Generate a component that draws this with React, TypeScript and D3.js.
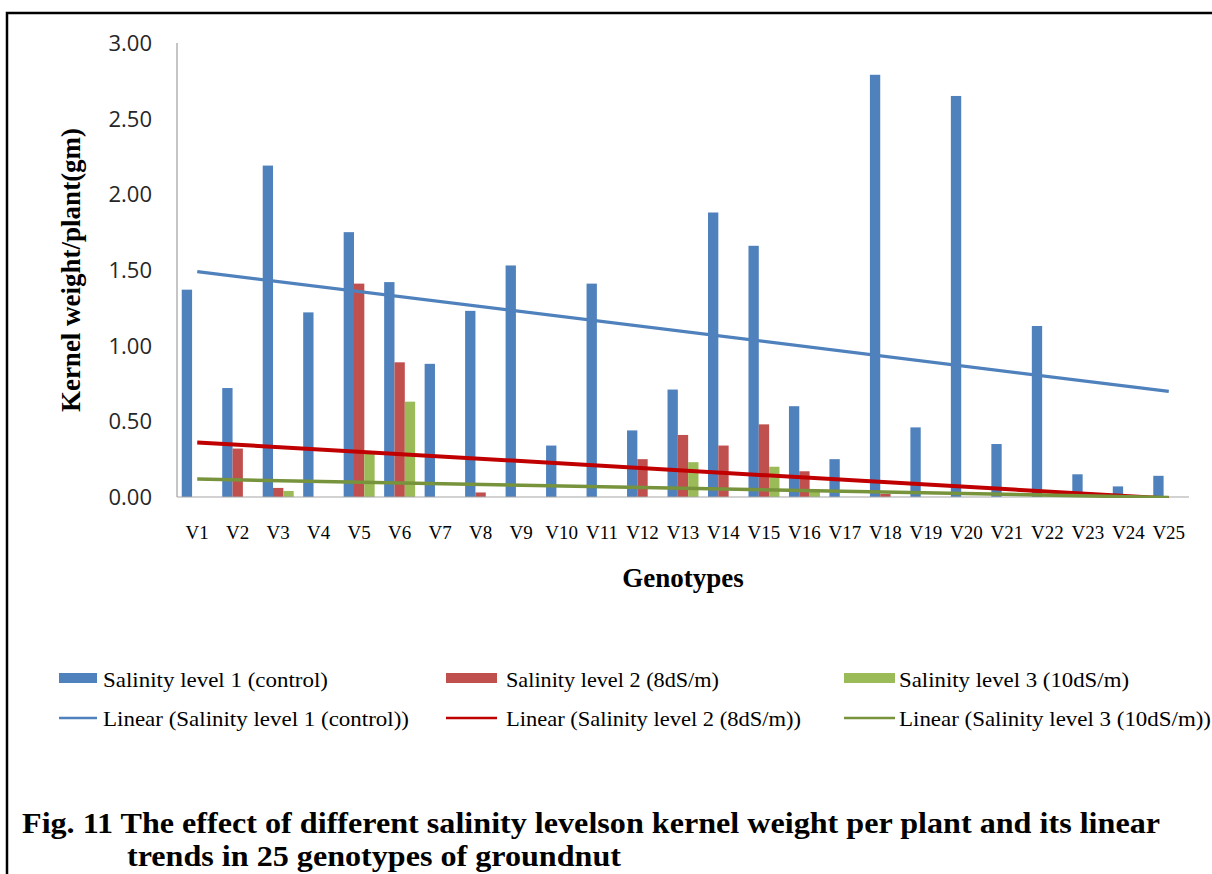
import React from "react";
import * as d3 from "d3";

// Genotypes on the category axis
const genotypes = [
  "V1", "V2", "V3", "V4", "V5", "V6", "V7", "V8", "V9", "V10", "V11", "V12", "V13",
  "V14", "V15", "V16", "V17", "V18", "V19", "V20", "V21", "V22", "V23", "V24", "V25",
];

// Kernel weight per plant (gm) at each salinity level
const level1 = [
  1.37, 0.72, 2.19, 1.22, 1.75, 1.42, 0.88, 1.23, 1.53, 0.34, 1.41, 0.44, 0.71,
  1.88, 1.66, 0.6, 0.25, 2.79, 0.46, 2.65, 0.35, 1.13, 0.15, 0.07, 0.14,
];
const level2 = [
  0, 0.32, 0.06, 0, 1.41, 0.89, 0, 0.03, 0, 0, 0, 0.25, 0.41,
  0.34, 0.48, 0.17, 0, 0.02, 0, 0, 0, 0, 0, 0, 0,
];
const level3 = [
  0, 0, 0.04, 0, 0.29, 0.63, 0, 0, 0, 0, 0, 0, 0.23,
  0, 0.2, 0.05, 0, 0, 0, 0, 0, 0, 0, 0, 0,
];

const seriesKeys = ["s1", "s2", "s3"];
const seriesNames = [
  "Salinity level 1 (control)",
  "Salinity level 2 (8dS/m)",
  "Salinity level 3 (10dS/m)",
];
const trendNames = [
  "Linear (Salinity level 1 (control))",
  "Linear (Salinity level 2 (8dS/m))",
  "Linear (Salinity level 3 (10dS/m))",
];
const yTicks = [0, 0.5, 1, 1.5, 2, 2.5, 3];
const captionLines = [
  "Fig. 11 The effect of different salinity levelson kernel weight per plant and its linear",
  "trends in 25 genotypes of groundnut",
];

const barColors = ["#4F81BD", "#C0504D", "#9BBB59"];
const trendColors = ["#4F81BD", "#C00000", "#77933C"];
const trendWidths = [3.2, 4, 3.5];

const W = 1212;
const H = 874;
const plot = { left: 177, right: 1189, top: 43, bottom: 497 };

// Ordinary least squares over category index 1..n
function linearFit(values: number[]) {
  const n = values.length;
  const xs = values.map((_, i) => i + 1);
  const mx = d3.mean(xs) as number;
  const my = d3.mean(values) as number;
  let num = 0;
  let den = 0;
  values.forEach((v, i) => {
    num += (xs[i] - mx) * (v - my);
    den += (xs[i] - mx) * (xs[i] - mx);
  });
  const slope = num / den;
  const intercept = my - slope * mx;
  return { slope, intercept, n };
}

const serif = "'Liberation Serif', 'Times New Roman', serif";

export default function App() {
  const series = [level1, level2, level3];

  const x = d3
    .scaleBand<string>()
    .domain(genotypes)
    .range([plot.left, plot.right])
    .paddingInner(0)
    .paddingOuter(0);
  const xSub = d3
    .scaleBand<string>()
    .domain(seriesKeys)
    .range([0, x.bandwidth()])
    .paddingInner(0)
    .paddingOuter(0.46);
  const y = d3.scaleLinear().domain([0, 3]).range([plot.bottom, plot.top]);

  const center = (i: number) => (x(genotypes[i]) as number) + x.bandwidth() / 2;

  const trends = series.map((vals) => {
    const fit = linearFit(vals);
    const pts: [number, number][] = [1, fit.n].map((k) => [
      center(k - 1),
      y(fit.intercept + fit.slope * k),
    ]);
    return d3.line()(pts) as string;
  });

  // Legend layout: swatch start/end and text start for each column
  const legendCols = [
    { sx0: 59, sx1: 97, tx: 103, w1: 225, w2: 306 },
    { sx0: 446, sx1: 497, tx: 506, w1: 213, w2: 295 },
    { sx0: 844, sx1: 895, tx: 899, w1: 230, w2: 312 },
  ];

  // Caption lines: start x, baseline, rendered width
  const captionLayout = [
    { x: 22, y: 833, w: 1138 },
    { x: 127, y: 866, w: 494 },
  ];

  return (
    <div style={{ position: "absolute", left: 0, top: 0 }}>
      <svg width={W} height={H} viewBox={`0 0 ${W} ${H}`} style={{ display: "block", background: "#fff" }}>
        <defs>
          <clipPath id="plot-clip">
            <rect x={plot.left} y={plot.top} width={plot.right - plot.left} height={plot.bottom - plot.top + 1} />
          </clipPath>
        </defs>

        {/* frame */}
        <path d={`M7,${H + 2} L7,13 L${W + 2},13`} fill="none" stroke="#000" strokeWidth={2.5} />

        {/* y tick labels */}
        {yTicks.map((t) => (
          <text
            key={t}
            x={152}
            y={y(t)}
            dy="0.36em"
            textAnchor="end"
            fontFamily="'Open Sans', 'Liberation Sans', sans-serif"
            fontSize={22}
            fill="#262626"
          >
            {d3.format(".2f")(t)}
          </text>
        ))}

        {/* bars */}
        {series.map((vals, s) => (
          <g key={seriesKeys[s]} fill={barColors[s]}>
            {vals.map((v, i) =>
              v > 0 ? (
                <rect
                  key={i}
                  x={(x(genotypes[i]) as number) + (xSub(seriesKeys[s]) as number)}
                  y={y(v)}
                  width={xSub.bandwidth()}
                  height={y(0) - y(v)}
                />
              ) : null
            )}
          </g>
        ))}

        {/* axes */}
        <line x1={plot.left} x2={plot.left} y1={plot.top} y2={plot.bottom} stroke="#8c8c8c" strokeWidth={1} />
        <line x1={plot.left} x2={plot.right} y1={plot.bottom} y2={plot.bottom} stroke="#a6a6a6" strokeWidth={1.2} />

        {/* linear trend lines */}
        <g clipPath="url(#plot-clip)">
          {trends.map((d, s) => (
            <path key={s} d={d} fill="none" stroke={trendColors[s]} strokeWidth={trendWidths[s]} />
          ))}
        </g>

        {/* category labels */}
        {genotypes.map((g, i) => (
          <text key={g} x={center(i)} y={539} textAnchor="middle" fontFamily={serif} fontSize={19} fill="#000">
            {g}
          </text>
        ))}

        {/* axis titles */}
        <text x={683} y={587} textAnchor="middle" fontFamily={serif} fontWeight="bold" fontSize={27} fill="#000">
          Genotypes
        </text>
        <text
          transform="translate(80,270) rotate(-90)"
          textAnchor="middle"
          fontFamily={serif}
          fontWeight="bold"
          fontSize={27}
          fill="#000"
        >
          Kernel weight/plant(gm)
        </text>

        {/* legend */}
        {legendCols.map((c, s) => (
          <g key={s}>
            <rect x={c.sx0} y={673} width={c.sx1 - c.sx0} height={10} fill={barColors[s]} />
            <text x={c.tx} y={687} fontFamily={serif} fontSize={22} textLength={c.w1} lengthAdjust="spacingAndGlyphs">
              {seriesNames[s]}
            </text>
            <line x1={c.sx0} x2={c.sx1} y1={718} y2={718} stroke={trendColors[s]} strokeWidth={2.5} />
            <text x={c.tx} y={726} fontFamily={serif} fontSize={22} textLength={c.w2} lengthAdjust="spacingAndGlyphs">
              {trendNames[s]}
            </text>
          </g>
        ))}

        {/* caption, second line hangs indented */}
        {captionLines.map((line, i) => (
          <text
            key={i}
            x={captionLayout[i].x}
            y={captionLayout[i].y}
            fontFamily={serif}
            fontWeight="bold"
            fontSize={29.5}
            textLength={captionLayout[i].w}
            lengthAdjust="spacingAndGlyphs"
            fill="#000"
          >
            {line}
          </text>
        ))}
      </svg>
    </div>
  );
}
